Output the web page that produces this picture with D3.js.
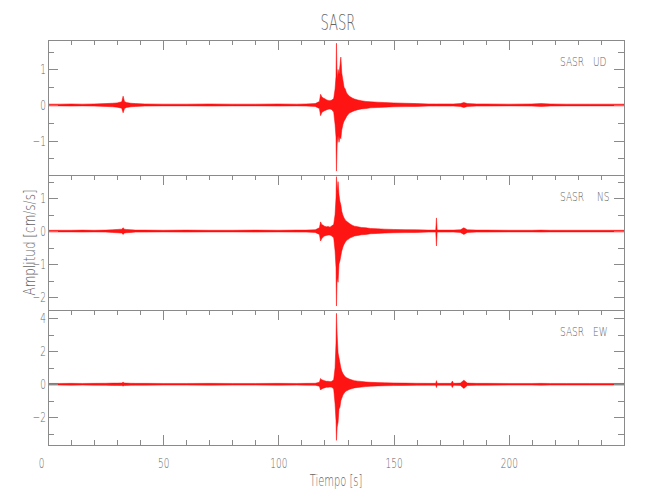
<!DOCTYPE html>
<html><head><meta charset="utf-8">
<script src="https://cdn.jsdelivr.net/npm/d3@7"></script>
<style>body{margin:0;background:#fff}</style></head>
<body><svg id="c" width="650" height="500"></svg>
<script>
// ---- data ----
const TITLE = "SASR";
const STATION = "SASR";
const COMPONENTS = ["UD", "NS", "EW"];
const X_LABEL = "Tiempo [s]";
const Y_LABEL = "Amplitud [cm/s/s]";
const X_TICKS = [0, 50, 100, 150, 200];
const X_MINOR = [10,20,30,40,60,70,80,90,110,120,130,140,160,170,180,190,210,220,230,240];

const TIME = [0,5,10,15,20,25,28,30,32,32.6,33.2,34,36,38,42,50,60,70,80,90,
  100,108,112,116,117.8,118.3,118.8,119.4,120,120.8,121.6,122.4,123.2,124,124.6,125,125.2,125.5,125.9,126.3,
  126.7,127.1,127.5,128,128.5,129,129.6,130.3,131,132,133,134.5,136,138,140,143,146,150,155,160,
  165,168.3,168.6,168.9,172,175,175.5,176,179,180.5,182,186,190,200,210,214,218,225,235,250];

const UD_HI = [0.025,0.025,0.03,0.025,0.03,0.04,0.05,0.06,0.09,0.25,0.10,0.07,0.05,0.04,0.03,0.025,0.025,0.03,0.025,0.025,
  0.03,0.025,0.03,0.04,0.10,0.30,0.24,0.20,0.18,0.15,0.13,0.12,0.14,0.18,0.45,0.80,1.74,0.70,1.00,0.85,
  1.10,1.35,0.90,0.70,0.50,0.45,0.34,0.28,0.24,0.20,0.17,0.14,0.12,0.10,0.09,0.08,0.07,0.06,0.05,0.04,
  0.03,0.03,0.03,0.03,0.03,0.03,0.03,0.03,0.04,0.07,0.04,0.03,0.03,0.025,0.03,0.04,0.03,0.025,0.025,0.025];
const UD_LO = [-0.025,-0.025,-0.03,-0.025,-0.03,-0.04,-0.05,-0.06,-0.09,-0.22,-0.10,-0.07,-0.05,-0.04,-0.03,-0.025,-0.025,-0.03,-0.025,-0.025,
  -0.03,-0.025,-0.03,-0.04,-0.10,-0.30,-0.22,-0.18,-0.16,-0.14,-0.12,-0.11,-0.13,-0.20,-0.55,-0.90,-1.86,-1.10,-0.85,-1.05,
  -0.90,-0.95,-0.70,-0.55,-0.45,-0.40,-0.32,-0.26,-0.22,-0.19,-0.16,-0.13,-0.11,-0.10,-0.08,-0.07,-0.06,-0.05,-0.045,-0.04,
  -0.03,-0.03,-0.03,-0.03,-0.03,-0.03,-0.03,-0.03,-0.04,-0.07,-0.04,-0.03,-0.03,-0.025,-0.03,-0.04,-0.03,-0.025,-0.025,-0.025];

const NS_HI = [0.025,0.025,0.025,0.03,0.025,0.03,0.04,0.05,0.06,0.10,0.06,0.05,0.04,0.03,0.03,0.025,0.03,0.025,0.025,0.03,
  0.025,0.03,0.03,0.04,0.10,0.28,0.20,0.18,0.15,0.13,0.14,0.12,0.16,0.20,0.50,1.00,1.65,1.20,1.50,1.10,
  0.90,0.80,0.60,0.48,0.40,0.34,0.30,0.26,0.22,0.18,0.15,0.13,0.11,0.10,0.08,0.07,0.06,0.05,0.045,0.04,
  0.03,0.03,0.40,0.03,0.03,0.03,0.03,0.03,0.04,0.10,0.04,0.03,0.03,0.025,0.025,0.03,0.025,0.025,0.025,0.025];
const NS_LO = [-0.025,-0.025,-0.025,-0.03,-0.025,-0.03,-0.04,-0.05,-0.06,-0.10,-0.06,-0.05,-0.04,-0.03,-0.03,-0.025,-0.03,-0.025,-0.025,-0.03,
  -0.025,-0.03,-0.03,-0.04,-0.10,-0.30,-0.23,-0.18,-0.15,-0.13,-0.12,-0.12,-0.15,-0.20,-0.60,-1.10,-2.27,-1.40,-1.55,-1.00,
  -0.90,-0.75,-0.60,-0.48,-0.40,-0.34,-0.28,-0.25,-0.21,-0.18,-0.15,-0.13,-0.11,-0.10,-0.08,-0.07,-0.06,-0.05,-0.045,-0.04,
  -0.03,-0.03,-0.45,-0.03,-0.03,-0.03,-0.03,-0.03,-0.04,-0.10,-0.04,-0.03,-0.03,-0.025,-0.025,-0.03,-0.025,-0.025,-0.025,-0.025];

const EW_HI = [0.05,0.05,0.055,0.05,0.055,0.06,0.07,0.07,0.08,0.12,0.08,0.07,0.06,0.055,0.055,0.05,0.05,0.055,0.05,0.05,
  0.055,0.05,0.055,0.06,0.12,0.35,0.28,0.25,0.22,0.18,0.18,0.16,0.18,0.28,1.00,2.50,4.30,3.00,1.90,1.60,
  1.30,1.00,0.80,0.65,0.55,0.45,0.40,0.35,0.30,0.26,0.22,0.19,0.17,0.14,0.12,0.10,0.09,0.08,0.07,0.06,
  0.055,0.055,0.22,0.055,0.055,0.055,0.20,0.055,0.07,0.25,0.07,0.055,0.055,0.05,0.05,0.055,0.05,0.05,0.05,0.05];
const EW_LO = [-0.05,-0.05,-0.055,-0.05,-0.055,-0.06,-0.07,-0.07,-0.08,-0.10,-0.08,-0.07,-0.06,-0.055,-0.055,-0.05,-0.05,-0.055,-0.05,-0.05,
  -0.055,-0.05,-0.055,-0.06,-0.12,-0.35,-0.28,-0.24,-0.22,-0.18,-0.18,-0.16,-0.18,-0.28,-1.20,-2.20,-3.40,-2.60,-2.30,-1.50,
  -1.40,-1.00,-0.85,-0.65,-0.55,-0.45,-0.40,-0.35,-0.30,-0.26,-0.22,-0.19,-0.17,-0.14,-0.12,-0.10,-0.09,-0.08,-0.07,-0.06,
  -0.055,-0.055,-0.20,-0.055,-0.055,-0.055,-0.20,-0.055,-0.07,-0.25,-0.07,-0.055,-0.055,-0.05,-0.05,-0.055,-0.05,-0.05,-0.05,-0.05];

const UD_DOMAIN = [-1.97, 1.83], NS_DOMAIN = [-2.39, 1.70], EW_DOMAIN = [-3.68, 4.5];
const UD_YTICKS = [-1, 0, 1], NS_YTICKS = [-2, -1, 0, 1], EW_YTICKS = [-2, 0, 2, 4];
const UD_YMINOR = [-1.5, -0.5, 0.5, 1.5], NS_YMINOR = [-1.5, -0.5, 0.5, 1.5], EW_YMINOR = [-3, -1, 1, 3];

// ---- drawing ----
const panels = [
  {comp: COMPONENTS[0], hi: UD_HI, lo: UD_LO, domain: UD_DOMAIN, ticks: UD_YTICKS, minor: UD_YMINOR, compX: 593},
  {comp: COMPONENTS[1], hi: NS_HI, lo: NS_LO, domain: NS_DOMAIN, ticks: NS_YTICKS, minor: NS_YMINOR, compX: 597},
  {comp: COMPONENTS[2], hi: EW_HI, lo: EW_LO, domain: EW_DOMAIN, ticks: EW_YTICKS, minor: EW_YMINOR, compX: 593}
];
const svg = d3.select('#c');
const L = 48, R = 624, TOP0 = 40, PH = 135;
const FONT = "'DejaVu Sans',sans-serif";
const AX = '#8a8a8a', TX = '#666666';
const x = d3.scaleLinear().domain([0, 250]).range([L, R]);
const fmt = v => v < 0 ? '\u2212' + Math.abs(v) : String(v);

// narrow the glyphs to match the thin, condensed lettering of the original
function condense(sel, f) {
  sel.each(function () {
    const w = this.getComputedTextLength();
    if (w > 0) d3.select(this).attr('textLength', w * f).attr('lengthAdjust', 'spacingAndGlyphs');
  });
}
function styleAxis(g) {
  g.select('.domain').remove();
  g.selectAll('line').attr('stroke', AX).attr('stroke-width', 1).attr('shape-rendering', 'crispEdges');
  g.selectAll('text').attr('fill', TX).attr('font-family', FONT).attr('font-size', 14).attr('font-weight', 200)
    .call(condense, 0.64);
}
function label(t, xx, yy, size, f, anchor) {
  return svg.append('text').attr('x', xx).attr('y', yy).text(t)
    .attr('font-family', FONT).attr('font-size', size).attr('font-weight', 200).attr('fill', TX)
    .attr('text-anchor', anchor || 'start').call(condense, f);
}

panels.forEach((p, i) => {
  const top = TOP0 + i * PH, bot = top + PH;
  const y = d3.scaleLinear().domain(p.domain).range([bot, top]);
  const cid = 'clip' + i;
  svg.append('clipPath').attr('id', cid).append('rect')
    .attr('x', L).attr('y', top).attr('width', R - L).attr('height', PH);
  const area = d3.area()
    .x((d, j) => x(TIME[j]))
    .y0((d, j) => y(p.lo[j]))
    .y1((d, j) => y(p.hi[j]));
  svg.append('path').datum(p.hi).attr('d', area)
    .attr('clip-path', `url(#${cid})`)
    .attr('fill', '#ff0000').attr('fill-opacity', 0.92).attr('stroke', '#ff0000').attr('stroke-width', 0.5);

  svg.append('g').attr('transform', `translate(${L},0)`)
    .call(d3.axisLeft(y).tickValues(p.ticks).tickSize(-10).tickPadding(2).tickFormat(fmt)).call(styleAxis);
  svg.append('g').attr('transform', `translate(${L},0)`)
    .call(d3.axisLeft(y).tickValues(p.minor).tickSize(-6).tickFormat('')).call(styleAxis);
  svg.append('g').attr('transform', `translate(${R},0)`)
    .call(d3.axisRight(y).tickValues(p.ticks).tickSize(-10).tickFormat('')).call(styleAxis);
  svg.append('g').attr('transform', `translate(${R},0)`)
    .call(d3.axisRight(y).tickValues(p.minor).tickSize(-6).tickFormat('')).call(styleAxis);
  svg.append('g').attr('transform', `translate(0,${top})`)
    .call(d3.axisTop(x).tickValues(X_TICKS).tickSize(-10).tickFormat('')).call(styleAxis);
  svg.append('g').attr('transform', `translate(0,${top})`)
    .call(d3.axisTop(x).tickValues(X_MINOR).tickSize(-5).tickFormat('')).call(styleAxis);

  svg.append('rect').attr('x', L).attr('y', top).attr('width', R - L).attr('height', PH)
    .attr('fill', 'none').attr('stroke', AX).attr('stroke-width', 1).attr('shape-rendering', 'crispEdges');

  label(STATION, 560, top + 26, 12.5, 0.72);
  label(p.comp, p.compX, top + 26, 12.5, 0.72);
});

const B = TOP0 + 3 * PH;
const bx = svg.append('g').attr('transform', `translate(0,${B})`)
  .call(d3.axisBottom(x).tickValues(X_TICKS).tickSize(-10).tickPadding(13)).call(styleAxis);
bx.selectAll('.tick').filter(d => d === 0).select('text').attr('x', -7);
svg.append('g').attr('transform', `translate(0,${B})`)
  .call(d3.axisBottom(x).tickValues(X_MINOR).tickSize(-5).tickFormat('')).call(styleAxis);

label(TITLE, 338, 30, 20.5, 0.64, 'middle');
label(X_LABEL, 336, 486, 15, 0.66, 'middle');
label(Y_LABEL, 0, 0, 15, 0.8, 'middle').attr('transform', 'translate(35,242.5) rotate(-90)');
</script>
</body></html>
